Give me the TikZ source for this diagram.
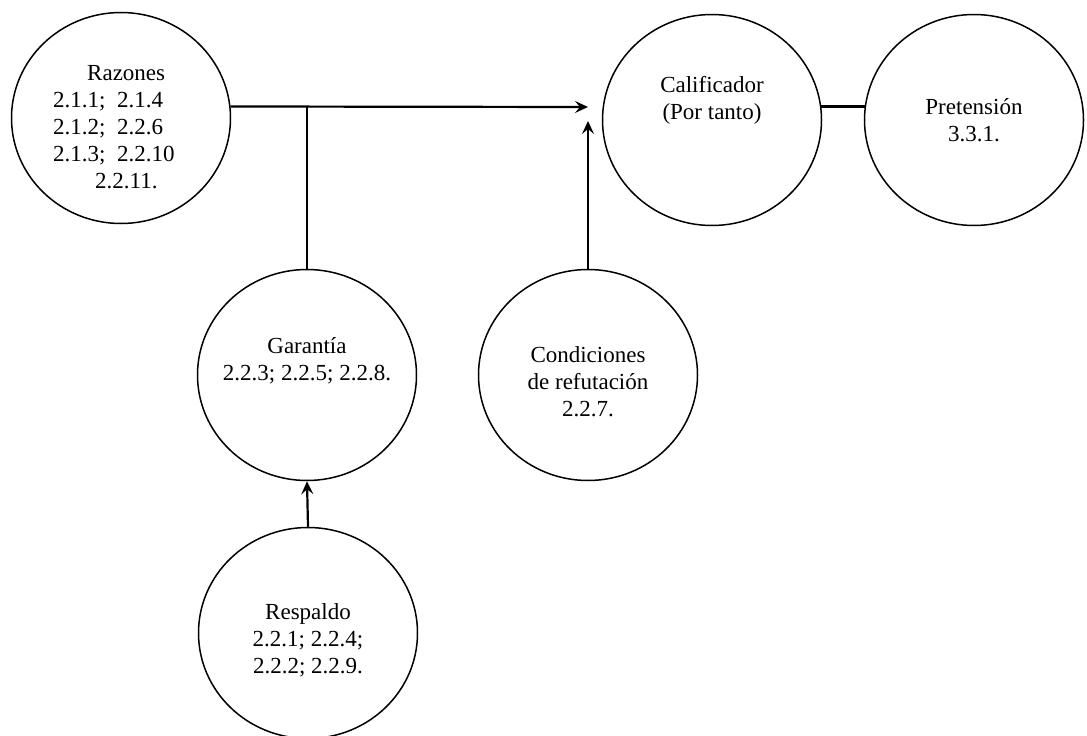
\documentclass[tikz,border=0pt]{standalone}
\usepackage{fontspec}
\setmainfont{Liberation Serif}
\usetikzlibrary{shapes.geometric,arrows.meta}
\begin{document}
\begin{tikzpicture}[x=1pt,y=-1pt,
  bubble/.style={ellipse,draw,line width=1.5pt,minimum width=219pt,minimum height=211pt,inner sep=0pt},
  txt/.style={font=\fontsize{23}{27}\selectfont,align=center,inner sep=0pt},
  conn/.style={line width=2.2pt},
  arr/.style={conn,-{Stealth[length=13pt,width=12pt,inset=5pt]}}]
\useasboundingbox (0,0) rectangle (1087,736);
\node[bubble] (R) at (121,118) {};
\node[bubble] (C) at (712,120) {};
\node[bubble] (P) at (974,120) {};
\node[bubble] (G) at (307,375) {};
\node[bubble] (K) at (588,375) {};
\node[bubble] (S) at (308,633) {};
\node[txt,align=left,anchor=west] (Rt) at (53,127) {\hspace*{34pt}Razones\\2.1.1;~~2.1.4\\2.1.2;~~2.2.6\\2.1.3;~~2.2.10\\\hspace*{42pt}2.2.11.};
\node[txt] (Ct) at (712,100) {Calificador\\(Por tanto)};
\node[txt] (Pt) at (974,120) {Pretensión\\3.3.1.};
\node[txt] (Gt) at (307,361) {Garantía\\2.2.3; 2.2.5; 2.2.8.};
\node[txt] (Kt) at (588,382) {Condiciones\\de refutación\\2.2.7.};
\node[txt] (St) at (308,640) {Respaldo\\2.2.1; 2.2.4;\\2.2.2; 2.2.9.};
\coordinate (tipH) at (588,107);
\coordinate (tipV) at (588,121);
\coordinate (jn) at (G.north |- tipH);
\draw[arr] (R.6) -- (tipH);
\draw[conn] (jn) -- (G.north);
\draw[arr] (K.north) -- (tipV);
\draw[conn] (C.7) -- (P.173);
\draw[arr] (S.north) -- (G.south);
\end{tikzpicture}
\end{document}
